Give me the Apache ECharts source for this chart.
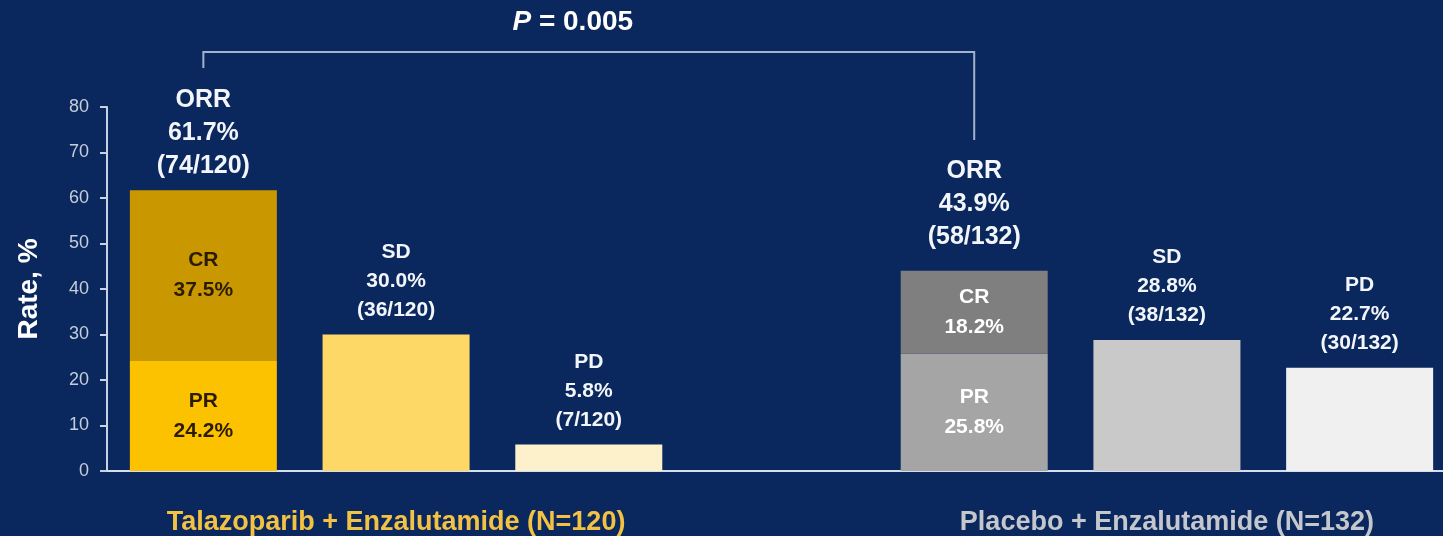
<!DOCTYPE html>
<html>
<head>
<meta charset="utf-8">
<script src="https://cdn.jsdelivr.net/npm/echarts@6/dist/echarts.min.js"></script>
<style>
  html, body { margin: 0; padding: 0; background: #0a285e; }
  #chart { width: 1443px; height: 536px; }
</style>
</head>
<body>
<div id="chart"></div>
<script>
// Response categories; the empty slot separates the two treatment arms
const categories = ['ORR', 'SD', 'PD', '', 'ORR', 'SD', 'PD'];
const groupNames = ['Talazoparib + Enzalutamide (N=120)', 'Placebo + Enzalutamide (N=132)'];
const groupLabelIndex = [1, 5];

// Response rates, %
const prValues  = [24.2, null, null, null, 25.8, null, null];
const crValues  = [37.5, null, null, null, 18.2, null, null];
const orrValues = [61.7, null, null, null, 43.9, null, null];
const orrCounts = ['74/120', '', '', '', '58/132', '', ''];
const sdPdValues = [null, 30.0, 5.8, null, null, 28.8, 22.7];
const sdPdCounts = ['', '36/120', '7/120', '', '', '38/132', '30/132'];

const yTicks = { min: 0, max: 80, interval: 10 };
const pValueText = '0.005';

const FONT = '"Liberation Sans", Arial, sans-serif';
const prColors   = ['#fcc200', null, null, null, '#a5a5a5', null, null];
const crColors   = ['#c99700', null, null, null, '#7f7f7f', null, null];
const sdPdColors = [null, '#fdd866', '#fdf1cc', null, null, '#c9c9c9', '#f0f0f0'];
const insideText = ['#2b1c00', null, null, null, '#ffffff', null, null];
const orrGap = [8, 0, 0, 0, 18, 0, 0];

const chart = echarts.init(document.getElementById('chart'));

function segItems(values, colors) {
  return values.map((v, i) => v == null ? null : {
    value: v,
    itemStyle: { color: colors[i] },
    label: { color: insideText[i] }
  });
}

const option = {
  backgroundColor: '#0a285e',
  animation: false,
  grid: { left: 107, top: 107, width: 1349, bottom: 65, outerBoundsMode: 'none', containLabel: false },
  xAxis: {
    type: 'category',
    data: categories,
    axisLine: { lineStyle: { color: '#d4def0', width: 2 } },
    axisTick: { show: false },
    axisLabel: {
      interval: 0,
      margin: 38,
      formatter: (val, idx) => {
        const g = groupLabelIndex.indexOf(idx);
        if (g < 0) return '';
        return '{g' + g + '|' + groupNames[g] + '}';
      },
      rich: {
        g0: { color: '#f4c243', fontSize: 27, fontWeight: 'bold', fontFamily: FONT },
        g1: { color: '#c4c7cc', fontSize: 27, fontWeight: 'bold', fontFamily: FONT }
      }
    }
  },
  yAxis: {
    type: 'value',
    min: yTicks.min, max: yTicks.max, interval: yTicks.interval,
    name: 'Rate, %',
    nameLocation: 'middle',
    nameRotate: 90,
    nameGap: 64,
    nameTextStyle: { color: '#ffffff', fontSize: 28, fontWeight: 'bold', fontFamily: FONT },
    axisLine: { show: true, lineStyle: { color: '#c8d2e4', width: 2 } },
    axisTick: { show: true, length: 7, lineStyle: { color: '#c8d2e4', width: 2 } },
    axisLabel: { color: '#c5cdd9', fontSize: 18, fontFamily: FONT, margin: 18 },
    splitLine: { show: false }
  },
  series: [
    {
      name: 'PR', type: 'bar', stack: 'rate', barWidth: 147,
      data: segItems(prValues, prColors),
      label: {
        show: true, position: 'inside', fontSize: 21, fontWeight: 'bold',
        fontFamily: FONT, lineHeight: 30,
        formatter: p => 'PR\n' + p.value.toFixed(1) + '%'
      }
    },
    {
      name: 'CR', type: 'bar', stack: 'rate', barWidth: 147,
      data: segItems(crValues, crColors),
      label: {
        show: true, position: 'inside', fontSize: 21, fontWeight: 'bold',
        fontFamily: FONT, lineHeight: 30,
        formatter: p => 'CR\n' + p.value.toFixed(1) + '%'
      }
    },
    {
      name: 'SD/PD', type: 'bar', stack: 'rate', barWidth: 147,
      data: sdPdValues.map((v, i) => v == null ? null : {
        value: v, itemStyle: { color: sdPdColors[i] }
      }),
      label: {
        show: true, position: 'top', distance: 10, color: '#f2f5fa',
        fontSize: 21, fontWeight: 'bold', fontFamily: FONT, lineHeight: 29,
        formatter: p => categories[p.dataIndex] + '\n' + p.value.toFixed(1) + '%\n(' + sdPdCounts[p.dataIndex] + ')'
      }
    },
    {
      name: 'ORR', type: 'scatter', symbolSize: 0, silent: true,
      itemStyle: { opacity: 1 },
      data: orrValues.map((v, i) => v == null ? null : {
        value: v, label: { distance: orrGap[i] }
      }),
      label: {
        show: true, position: 'top', color: '#f2f5fa', opacity: 1,
        fontSize: 25, fontWeight: 'bold', fontFamily: FONT, lineHeight: 33,
        formatter: p => 'ORR\n' + p.value.toFixed(1) + '%\n(' + orrCounts[p.dataIndex] + ')'
      }
    }
  ]
};

chart.setOption(option);

// Significance bracket joining the two ORR bars
const xa = chart.convertToPixel({ xAxisIndex: 0 }, 0);
const xb = chart.convertToPixel({ xAxisIndex: 0 }, 4);
const bracketY = 52;
chart.setOption({
  graphic: [
    {
      type: 'polyline',
      shape: { points: [[xa, 68], [xa, bracketY], [xb, bracketY], [xb, 140]] },
      style: { stroke: '#a3b3cc', lineWidth: 2, fill: null }
    },
    {
      type: 'text',
      x: (xa + xb) / 2 - 16,
      y: 22,
      style: {
        text: '{i|P}{n| = ' + pValueText + '}',
        align: 'center', verticalAlign: 'middle',
        rich: {
          i: { fill: '#ffffff', fontSize: 28, fontWeight: 'bold', fontStyle: 'italic', fontFamily: FONT },
          n: { fill: '#ffffff', fontSize: 28, fontWeight: 'bold', fontFamily: FONT }
        }
      }
    }
  ]
});
</script>
</body>
</html>
